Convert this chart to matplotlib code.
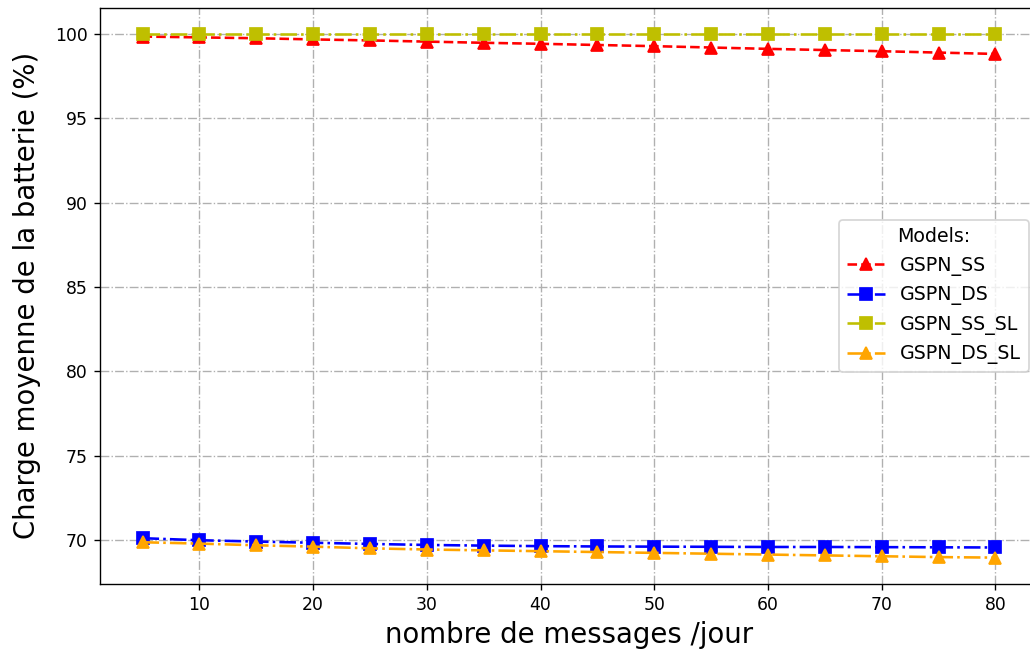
import matplotlib
matplotlib.use('Agg')
import matplotlib.pyplot as plt
import numpy as np

messages = [5, 10, 15, 20, 25, 30, 35, 40, 45, 50, 55, 60, 65, 70, 75, 80]

gspn_ss = [99.85, 99.8, 99.75, 99.68, 99.62, 99.55, 99.48, 99.42, 99.35, 99.28, 99.2, 99.12, 99.05, 98.98, 98.9, 98.82]
gspn_ds = [70.12, 70.0, 69.92, 69.85, 69.78, 69.72, 69.68, 69.65, 69.63, 69.62, 69.61, 69.6, 69.6, 69.59, 69.58, 69.57]
gspn_ss_sl = [100.0] * 16
gspn_ds_sl = [69.88, 69.8, 69.7, 69.62, 69.52, 69.45, 69.4, 69.35, 69.3, 69.25, 69.2, 69.15, 69.1, 69.05, 69.0, 68.97]

dpi = 124
fig = plt.figure(figsize=(1030 / dpi, 653 / dpi), dpi=dpi)
ax = fig.add_subplot(111)

ax.plot(messages, gspn_ss, linestyle='--', marker='^', color='r', markersize=7.5, linewidth=1.5, label='GSPN_SS')
ax.plot(messages, gspn_ds, linestyle='-.', marker='s', color='b', markersize=7.5, linewidth=1.5, label='GSPN_DS')
ax.plot(messages, gspn_ss_sl, linestyle='-.', marker='s', color='y', markersize=7.5, linewidth=1.5, label='GSPN_SS_SL')
ax.plot(messages, gspn_ds_sl, linestyle='-.', marker='^', color='orange', markersize=7.5, linewidth=1.5, label='GSPN_DS_SL')

ax.set_xlabel('nombre de messages /jour', fontsize=16)
ax.set_ylabel('Charge moyenne de la batterie (%)', fontsize=16, labelpad=8)
ax.grid(True, linestyle='-.', color='#b0b0b0')
ax.legend(title='Models:', loc='center right', fontsize=11, title_fontsize=11)

plt.subplots_adjust(left=0.097, right=1.0078, top=0.988, bottom=0.106)
plt.savefig('out.png', dpi=dpi)
